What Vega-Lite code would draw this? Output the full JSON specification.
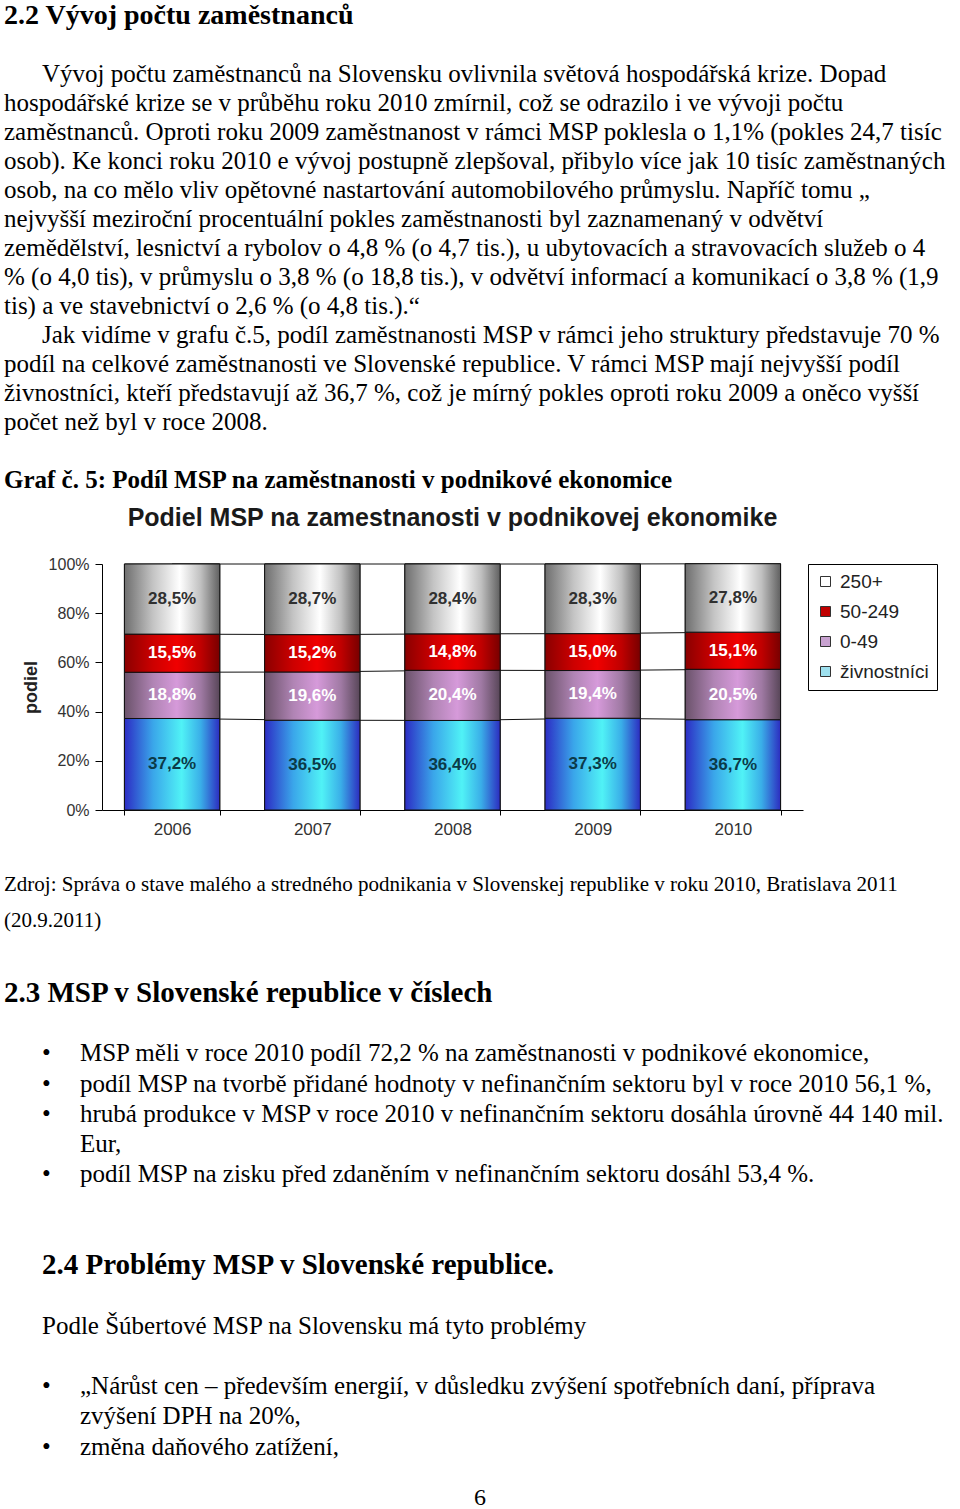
{
  "$schema": "https://vega.github.io/schema/vega-lite/v6.json",
  "background": "white",
  "padding": 0,
  "spacing": 0,
  "config": {
    "view": {"stroke": null},
    "locale": {"number": {"decimal": ",", "thousands": " ", "grouping": [3], "currency": ["", " €"]}}
  },
  "resolve": {"scale": {"color": "independent"}, "legend": {"color": "independent"}},
  "datasets": {
    "page_top": [
      {"row": 0, "indent": 0, "kind": "heading", "text": "2.2 Vývoj počtu zaměstnanců"},
      {"row": 2, "indent": 1, "kind": "body", "text": "Vývoj počtu zaměstnanců na Slovensku ovlivnila světová hospodářská krize. Dopad"},
      {"row": 3, "indent": 0, "kind": "body", "text": "hospodářské krize se v průběhu roku 2010 zmírnil, což se odrazilo i ve vývoji počtu"},
      {"row": 4, "indent": 0, "kind": "body", "text": "zaměstnanců. Oproti roku 2009 zaměstnanost v rámci MSP poklesla o 1,1% (pokles 24,7 tisíc"},
      {"row": 5, "indent": 0, "kind": "body", "text": "osob). Ke konci roku 2010 e vývoj postupně zlepšoval, přibylo více jak 10 tisíc zaměstnaných"},
      {"row": 6, "indent": 0, "kind": "body", "text": "osob, na co mělo vliv opětovné nastartování automobilového průmyslu. Napříč tomu „"},
      {"row": 7, "indent": 0, "kind": "body", "text": "nejvyšší meziroční procentuální pokles zaměstnanosti byl zaznamenaný v odvětví"},
      {"row": 8, "indent": 0, "kind": "body", "text": "zemědělství, lesnictví a rybolov o 4,8 % (o 4,7 tis.), u ubytovacích a stravovacích služeb o 4"},
      {"row": 9, "indent": 0, "kind": "body", "text": "% (o 4,0 tis), v průmyslu o 3,8 % (o 18,8 tis.), v odvětví informací a komunikací o 3,8 % (1,9"},
      {"row": 10, "indent": 0, "kind": "body", "text": "tis) a ve stavebnictví o 2,6 % (o 4,8 tis.).“"},
      {"row": 11, "indent": 1, "kind": "body", "text": "Jak vidíme v grafu č.5, podíl zaměstnanosti MSP v rámci jeho struktury představuje 70 %"},
      {"row": 12, "indent": 0, "kind": "body", "text": "podíl na celkové zaměstnanosti ve Slovenské republice. V rámci MSP mají nejvyšší podíl"},
      {"row": 13, "indent": 0, "kind": "body", "text": "živnostníci, kteří představují až 36,7 %, což je mírný pokles oproti roku 2009 a oněco vyšší"},
      {"row": 14, "indent": 0, "kind": "body", "text": "počet než byl v roce 2008."},
      {"row": 16, "indent": 0, "kind": "caption", "text": "Graf č. 5: Podíl MSP na zaměstnanosti v podnikové ekonomice"}
    ],
    "source": [
      {"row": 0, "indent": 0, "text": "Zdroj: Správa o stave malého a stredného podnikania v Slovenskej republike v roku 2010, Bratislava 2011"},
      {"row": 1, "indent": 0, "text": "(20.9.2011)"}
    ],
    "page_bottom": [
      {"row": 0, "indent": 0, "kind": "heading", "text": "2.3 MSP v Slovenské republice v číslech"},
      {"row": 2, "indent": 1, "kind": "list", "text": "•"},
      {"row": 2, "indent": 2, "kind": "list", "text": "MSP měli v roce 2010 podíl 72,2 % na zaměstnanosti v podnikové ekonomice,"},
      {"row": 3, "indent": 1, "kind": "list", "text": "•"},
      {"row": 3, "indent": 2, "kind": "list", "text": "podíl MSP na tvorbě přidané hodnoty v nefinančním sektoru byl v roce 2010 56,1 %,"},
      {"row": 4, "indent": 1, "kind": "list", "text": "•"},
      {"row": 4, "indent": 2, "kind": "list", "text": "hrubá produkce v MSP v roce 2010 v nefinančním sektoru dosáhla úrovně 44 140 mil."},
      {"row": 5, "indent": 2, "kind": "list", "text": "Eur,"},
      {"row": 6, "indent": 1, "kind": "list", "text": "•"},
      {"row": 6, "indent": 2, "kind": "list", "text": "podíl MSP na zisku před zdaněním v nefinančním sektoru dosáhl 53,4 %."},
      {"row": 9, "indent": 1, "kind": "heading", "text": "2.4 Problémy MSP v Slovenské republice."},
      {"row": 11, "indent": 1, "kind": "list", "text": "Podle Šúbertové MSP na Slovensku má tyto problémy"},
      {"row": 13, "indent": 1, "kind": "list", "text": "•"},
      {"row": 13, "indent": 2, "kind": "list", "text": "„Nárůst cen – především energií, v důsledku zvýšení spotřebních daní, příprava"},
      {"row": 14, "indent": 2, "kind": "list", "text": "zvýšení DPH na 20%,"},
      {"row": 15, "indent": 1, "kind": "list", "text": "•"},
      {"row": 15, "indent": 2, "kind": "list", "text": "změna daňového zatížení,"}
    ],
    "employment": [
      {"year": "2006", "group": "živnostníci", "order": 1, "share": 0.372},
      {"year": "2006", "group": "0-49", "order": 2, "share": 0.188},
      {"year": "2006", "group": "50-249", "order": 3, "share": 0.155},
      {"year": "2006", "group": "250+", "order": 4, "share": 0.285},
      {"year": "2007", "group": "živnostníci", "order": 1, "share": 0.365},
      {"year": "2007", "group": "0-49", "order": 2, "share": 0.196},
      {"year": "2007", "group": "50-249", "order": 3, "share": 0.152},
      {"year": "2007", "group": "250+", "order": 4, "share": 0.287},
      {"year": "2008", "group": "živnostníci", "order": 1, "share": 0.364},
      {"year": "2008", "group": "0-49", "order": 2, "share": 0.204},
      {"year": "2008", "group": "50-249", "order": 3, "share": 0.148},
      {"year": "2008", "group": "250+", "order": 4, "share": 0.284},
      {"year": "2009", "group": "živnostníci", "order": 1, "share": 0.373},
      {"year": "2009", "group": "0-49", "order": 2, "share": 0.194},
      {"year": "2009", "group": "50-249", "order": 3, "share": 0.150},
      {"year": "2009", "group": "250+", "order": 4, "share": 0.283},
      {"year": "2010", "group": "živnostníci", "order": 1, "share": 0.367},
      {"year": "2010", "group": "0-49", "order": 2, "share": 0.205},
      {"year": "2010", "group": "50-249", "order": 3, "share": 0.151},
      {"year": "2010", "group": "250+", "order": 4, "share": 0.278}
    ]
  },
  "vconcat": [
    {
      "width": 960,
      "height": 506,
      "data": {"name": "page_top"},
      "encoding": {
        "x": {"field": "indent", "type": "quantitative", "scale": {"domain": [-0.105, 25.16], "nice": false, "zero": false}, "axis": null},
        "y": {"field": "row", "type": "quantitative", "scale": {"domain": [-0.55, 16.898], "nice": false, "zero": false, "reverse": true}, "axis": null},
        "text": {"field": "text", "type": "nominal"}
      },
      "layer": [
        {"transform": [{"filter": "datum.kind === 'heading'"}], "mark": {"type": "text", "align": "left", "baseline": "middle", "font": "Liberation Serif", "fontSize": 28, "fontWeight": "bold", "color": "#000"}},
        {"transform": [{"filter": "datum.kind === 'body'"}], "mark": {"type": "text", "align": "left", "baseline": "middle", "font": "Liberation Serif", "fontSize": 25, "color": "#000"}},
        {"transform": [{"filter": "datum.kind === 'caption'"}], "mark": {"type": "text", "align": "left", "baseline": "middle", "font": "Liberation Serif", "fontSize": 25, "fontWeight": "bold", "color": "#000"}}
      ]
    },
    {
      "spacing": 0,
      "resolve": {"scale": {"color": "independent"}, "legend": {"color": "independent"}},
      "hconcat": [
        {
          "width": 22,
          "height": 10,
          "data": {"values": [{"blank": ""}]},
          "mark": {"type": "text"},
          "encoding": {"text": {"field": "blank", "type": "nominal"}}
        },
        {
          "width": 701,
          "height": 246,
          "data": {"name": "employment"},
          "transform": [
            {"stack": "share", "groupby": ["year"], "sort": [{"field": "order", "order": "ascending"}], "as": ["start", "end"]},
            {"calculate": "(datum.start + datum.end) / 2", "as": "mid"}
          ],
          "title": {"text": "Podiel MSP na zamestnanosti v podnikovej ekonomike", "font": "Liberation Sans", "fontSize": 25, "fontWeight": "bold", "color": "#1a1a1a", "offset": 25, "anchor": "middle"},
          "encoding": {
            "x": {
              "field": "year", "type": "ordinal",
              "scale": {"paddingInner": 0.32, "paddingOuter": 0.16},
              "axis": {"title": null, "labelFont": "Liberation Sans", "labelFontSize": 17, "labelColor": "#333", "labelAngle": 0, "tickBand": "extent", "tickSize": 5, "tickColor": "#000", "domainColor": "#000", "labelPadding": 6}
            }
          },
          "layer": [
            {
              "mark": {"type": "line", "color": "#111", "strokeWidth": 1},
              "encoding": {
                "y": {"field": "end", "type": "quantitative", "stack": null, "title": "podiel", "scale": {"domain": [0, 1], "nice": false},
                  "axis": {"title": "podiel", "titleFont": "Liberation Sans", "titleFontSize": 18, "titleFontWeight": "bold", "titleColor": "#222", "titlePadding": 8, "labelFont": "Liberation Sans", "labelFontSize": 16, "labelColor": "#333", "labelPadding": 6, "tickSize": 7, "tickColor": "#000", "domainColor": "#000", "grid": false, "values": [0, 0.2, 0.4, 0.6, 0.8, 1], "format": ".0%"}},
                "detail": {"field": "group", "type": "nominal"}
              }
            },
            {
              "mark": {"type": "bar", "stroke": "#111", "strokeWidth": 1},
              "encoding": {
                "y": {"field": "start", "type": "quantitative", "stack": null, "title": "podiel", "scale": {"domain": [0, 1], "nice": false}},
                "y2": {"field": "end"},
                "color": {
                  "field": "group", "type": "nominal",
                  "scale": {"domain": ["250+", "50-249", "0-49", "živnostníci"], "range": ["#ffffff", "#c00000", "#c8a2d0", "#9ee0ee"]},
                  "legend": {"title": null, "orient": "right", "offset": 5, "padding": 8, "strokeColor": "#000", "fillColor": "white", "symbolType": "square", "symbolSize": 100, "symbolStrokeColor": "#333", "symbolStrokeWidth": 1, "labelFont": "Liberation Sans", "labelFontSize": 19, "labelColor": "#222", "rowPadding": 10, "labelOffset": 5}
                }
              }
            },
            {
              "transform": [{"filter": "datum.group === 'živnostníci'"}],
              "mark": {"type": "bar", "stroke": "#111", "strokeWidth": 1,
                "fill": {"gradient": "linear", "x1": 0, "y1": 0, "x2": 1, "y2": 0, "stops": [{"offset": 0, "color": "#2c2cc4"}, {"offset": 0.3, "color": "#3aa6ea"}, {"offset": 0.6, "color": "#50f2f6"}, {"offset": 0.8, "color": "#3aaee8"}, {"offset": 1, "color": "#2c2cc0"}]}},
              "encoding": {
                "y": {"field": "start", "type": "quantitative", "stack": null, "title": "podiel", "scale": {"domain": [0, 1], "nice": false}},
                "y2": {"field": "end"}
              }
            },
            {
              "transform": [{"filter": "datum.group === '0-49'"}],
              "mark": {"type": "bar", "stroke": "#111", "strokeWidth": 1,
                "fill": {"gradient": "linear", "x1": 0, "y1": 0, "x2": 1, "y2": 0, "stops": [{"offset": 0, "color": "#6a526a"}, {"offset": 0.3, "color": "#b084b4"}, {"offset": 0.55, "color": "#d69ada"}, {"offset": 0.8, "color": "#a07aa4"}, {"offset": 1, "color": "#584658"}]}},
              "encoding": {
                "y": {"field": "start", "type": "quantitative", "stack": null, "title": "podiel", "scale": {"domain": [0, 1], "nice": false}},
                "y2": {"field": "end"}
              }
            },
            {
              "transform": [{"filter": "datum.group === '50-249'"}],
              "mark": {"type": "bar", "stroke": "#111", "strokeWidth": 1,
                "fill": {"gradient": "linear", "x1": 0, "y1": 0, "x2": 1, "y2": 0, "stops": [{"offset": 0, "color": "#8a0000"}, {"offset": 0.3, "color": "#cc0000"}, {"offset": 0.55, "color": "#f00000"}, {"offset": 0.8, "color": "#c00000"}, {"offset": 1, "color": "#780000"}]}},
              "encoding": {
                "y": {"field": "start", "type": "quantitative", "stack": null, "title": "podiel", "scale": {"domain": [0, 1], "nice": false}},
                "y2": {"field": "end"}
              }
            },
            {
              "transform": [{"filter": "datum.group === '250+'"}],
              "mark": {"type": "bar", "stroke": "#111", "strokeWidth": 1,
                "fill": {"gradient": "linear", "x1": 0, "y1": 0, "x2": 1, "y2": 0, "stops": [{"offset": 0, "color": "#6e6e6e"}, {"offset": 0.3, "color": "#c4c4c4"}, {"offset": 0.58, "color": "#ffffff"}, {"offset": 0.8, "color": "#c0c0c0"}, {"offset": 1, "color": "#606060"}]}},
              "encoding": {
                "y": {"field": "start", "type": "quantitative", "stack": null, "title": "podiel", "scale": {"domain": [0, 1], "nice": false}},
                "y2": {"field": "end"}
              }
            },
            {
              "mark": {"type": "text", "font": "Liberation Sans", "fontSize": 17, "fontWeight": "bold", "baseline": "middle", "align": "center"},
              "encoding": {
                "y": {"field": "mid", "type": "quantitative", "title": "podiel", "scale": {"domain": [0, 1], "nice": false}},
                "text": {"field": "share", "type": "quantitative", "format": ".1%"},
                "color": {
                  "condition": [
                    {"test": "datum.group === 'živnostníci'", "value": "#0b3a48"},
                    {"test": "datum.group === '250+'", "value": "#303030"}
                  ],
                  "value": "#ffffff"
                }
              }
            }
          ]
        }
      ]
    },
    {
      "width": 960,
      "height": 114,
      "data": {"name": "source"},
      "mark": {"type": "text", "align": "left", "baseline": "middle", "font": "Liberation Serif", "fontSize": 21, "color": "#000"},
      "encoding": {
        "x": {"field": "indent", "type": "quantitative", "scale": {"domain": [-0.105, 25.16], "nice": false, "zero": false}, "axis": null},
        "y": {"field": "row", "type": "quantitative", "scale": {"domain": [-1.333, 1.833], "nice": false, "zero": false, "reverse": true}, "axis": null},
        "text": {"field": "text", "type": "nominal"}
      }
    },
    {
      "width": 960,
      "height": 535,
      "data": {"name": "page_bottom"},
      "encoding": {
        "x": {"field": "indent", "type": "quantitative", "scale": {"domain": [-0.105, 25.16], "nice": false, "zero": false}, "axis": null},
        "y": {"field": "row", "type": "quantitative", "scale": {"domain": [-1.388, 16.298], "nice": false, "zero": false, "reverse": true}, "axis": null},
        "text": {"field": "text", "type": "nominal"}
      },
      "layer": [
        {"transform": [{"filter": "datum.kind === 'heading'"}], "mark": {"type": "text", "align": "left", "baseline": "middle", "font": "Liberation Serif", "fontSize": 29, "fontWeight": "bold", "color": "#000"}},
        {"transform": [{"filter": "datum.kind === 'list'"}], "mark": {"type": "text", "align": "left", "baseline": "middle", "font": "Liberation Serif", "fontSize": 25, "color": "#000"}}
      ]
    },
    {
      "width": 960,
      "height": 24,
      "data": {"values": [{"page": "6"}]},
      "mark": {"type": "text", "align": "center", "baseline": "middle", "font": "Liberation Serif", "fontSize": 24, "color": "#000"},
      "encoding": {"text": {"field": "page", "type": "nominal"}}
    }
  ]
}
